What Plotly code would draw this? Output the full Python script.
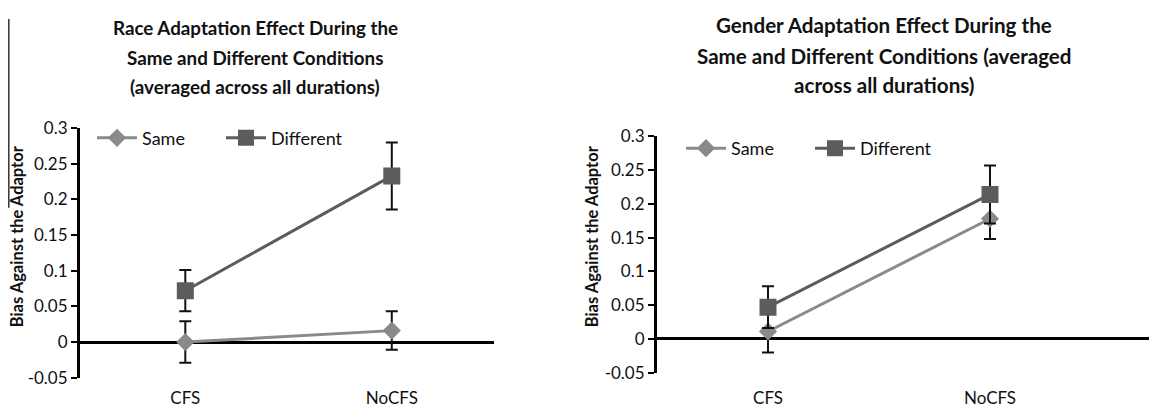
import plotly.graph_objects as go

W, H = 1157, 411
OFF = 8  # page body margin offset in the browser


def px(x):
    return (x - OFF) / W


def py(y):
    return 1 - (y - OFF) / H


categories = ["CFS", "NoCFS"]

race_same = [0.0, 0.016]
race_same_err = [0.029, 0.027]
race_diff = [0.072, 0.233]
race_diff_err = [0.029, 0.047]

gender_same = [0.011, 0.178]
gender_same_err = [0.031, 0.030]
gender_diff = [0.047, 0.214]
gender_diff_err = [0.031, 0.043]

series_names = ["Same", "Different"]
y_ticks = [-0.05, 0, 0.05, 0.1, 0.15, 0.2, 0.25, 0.3]
y_ticktext = ["-0.05", "0", "0.05", "0.1", "0.15", "0.2", "0.25", "0.3"]

title_left = ["Race Adaptation Effect During the",
              "Same and Different Conditions",
              "(averaged across all durations)"]
title_right = ["Gender Adaptation Effect During the",
               "Same and Different Conditions (averaged",
               "across all durations)"]
y_title = "Bias Against the Adaptor"

FONT = "Lato"
SAME_C = "#8a8a8a"
DIFF_C = "#5c5c5c"

fig = go.Figure()


def add_panel(same, same_err, diff, diff_err, xa, ya, legend):
    fig.add_trace(go.Scatter(
        x=categories, y=same, name=series_names[0], mode="lines+markers",
        xaxis=xa, yaxis=ya, legend=legend,
        line=dict(color=SAME_C, width=3),
        marker=dict(symbol="diamond", size=14, color=SAME_C),
        error_y=dict(type="data", array=same_err, visible=True, color="#111111", thickness=2, width=6),
    ))
    fig.add_trace(go.Scatter(
        x=categories, y=diff, name=series_names[1], mode="lines+markers",
        xaxis=xa, yaxis=ya, legend=legend,
        line=dict(color=DIFF_C, width=3),
        marker=dict(symbol="square", size=17, color=DIFF_C),
        error_y=dict(type="data", array=diff_err, visible=True, color="#111111", thickness=2, width=6),
    ))


add_panel(race_same, race_same_err, race_diff, race_diff_err, "x", "y", "legend")
add_panel(gender_same, gender_same_err, gender_diff, gender_diff_err, "x2", "y2", "legend2")

yax_common = dict(
    range=[-0.05, 0.3], tickvals=y_ticks, ticktext=y_ticktext,
    showline=True, linecolor="black", linewidth=3,
    ticks="outside", ticklen=6, tickwidth=2, tickcolor="black",
    showgrid=False, zeroline=True, zerolinecolor="black", zerolinewidth=3,
    tickfont=dict(family=FONT, size=17, color="#111111"),
)
xax_common = dict(
    showline=False, showgrid=False, zeroline=False, ticks="",
    tickfont=dict(family=FONT, size=17, color="#111111"),
)
legend_common = dict(
    orientation="h", xanchor="left", yanchor="top",
    font=dict(family=FONT, size=18, color="#111111"), bgcolor="rgba(0,0,0,0)",
    itemwidth=40, entrywidth=74,
)

fig.update_layout(
    width=W, height=H,
    margin=dict(l=0, r=0, t=0, b=0),
    paper_bgcolor="white", plot_bgcolor="rgba(0,0,0,0)",
    font=dict(family=FONT, color="#111111"),
    xaxis=dict(domain=[px(80), px(494)], range=[-0.51, 1.495], anchor="y",
               ticklabelstandoff=8, **xax_common),
    yaxis=dict(domain=[py(386), py(123)], anchor="x", **yax_common),
    xaxis2=dict(domain=[px(657), 1.0], range=[-0.5, (1165 - 768) / 222], anchor="y2",
                ticklabelstandoff=13, **xax_common),
    yaxis2=dict(domain=[py(380.7), py(131.7)], anchor="x2", **yax_common),
    legend=dict(x=84 / W, y=1 - 106 / H, **legend_common),
    legend2=dict(x=673 / W, y=1 - 117 / H, **legend_common),
)

for lines, cx, cys, size in [(title_left, 255, [17, 49, 79], 18.8),
                             (title_right, 884, [14, 47, 78], 20.6)]:
    for line, cy in zip(lines, cys):
        fig.add_annotation(text="<b>" + line + "</b>", x=px(cx), y=py(cy), xref="paper", yref="paper",
                           xanchor="center", yanchor="middle", showarrow=False, align="center",
                           font=dict(family=FONT, size=size, color="#111111"))

for cx, cy in [(17, 237), (592, 237)]:
    fig.add_annotation(text="<b>" + y_title + "</b>", x=px(cx), y=py(cy), xref="paper", yref="paper",
                       xanchor="center", yanchor="middle", showarrow=False, textangle=-90,
                       font=dict(family=FONT, size=16.5, color="#111111"))

# thin vertical rule at far left of the image
fig.add_shape(type="line", xref="paper", yref="paper", x0=0.8 / W, x1=0.8 / W, y0=1, y1=py(207),
              line=dict(color="#333333", width=1.5))

fig.write_html("out.html")
